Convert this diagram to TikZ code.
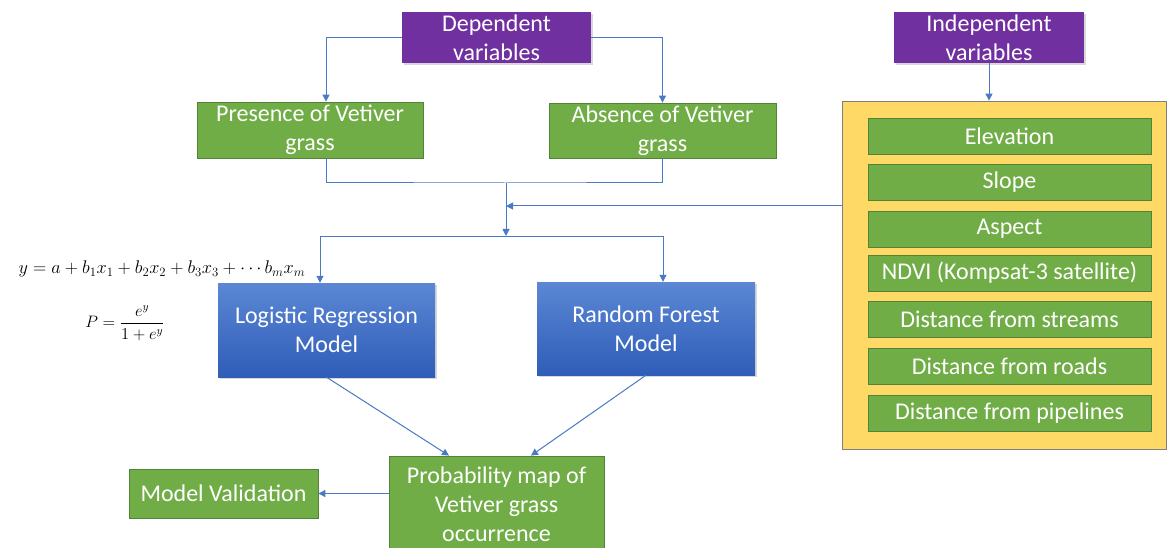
\documentclass[tikz,border=0pt]{standalone}
\usepackage{amsmath}
\usepackage{fontspec}
\setmainfont{Carlito}
\usetikzlibrary{arrows.meta,shadows}

\definecolor{varpurple}{RGB}{112,48,160}
\definecolor{boxgreen}{RGB}{112,173,71}
\definecolor{greenline}{RGB}{84,130,53}
\definecolor{modeltop}{RGB}{91,135,212}
\definecolor{modelbot}{RGB}{47,93,184}
\definecolor{panelyellow}{RGB}{255,217,102}
\definecolor{linkblue}{RGB}{74,122,196}

\begin{document}
\begin{tikzpicture}[x=1pt,y=-1pt,
	box/.style={inner sep=0pt,text=white,align=center,font=\fontsize{24}{29}\selectfont},
	varbox/.style={box,fill=varpurple,drop shadow={opacity=0.3,shadow xshift=1.5pt,shadow yshift=-2pt}},
	greenbox/.style={box,fill=boxgreen,draw=greenline,line width=0.8pt},
	modelbox/.style={box,top color=modeltop,bottom color=modelbot,drop shadow={opacity=0.3,shadow xshift=1.5pt,shadow yshift=-2pt}},
	link/.style={draw=linkblue,line width=1pt},
	arr/.style={link,-{Triangle[length=7pt,width=7pt]}}]
	\useasboundingbox[fill=white] (0,0) rectangle (1167,548);
	% variables
	\node[varbox,minimum width=189,minimum height=51] (dep) at (496.5,37.5) {Dependent\\variables};
	\node[varbox,minimum width=190,minimum height=51] (indep) at (989,37.5) {Independent\\variables};
	\node[greenbox,minimum width=226,minimum height=56] (pres) at (310,130) {Presence of Vetiver\\grass};
	\node[greenbox,minimum width=227,minimum height=55] (abs) at (662.5,130.5) {Absence of Vetiver\\grass};
	% factor panel
	\node[fill=panelyellow,draw=gray,line width=0.8pt,minimum width=324,minimum height=348,inner sep=0pt] (panel) at (1004,275) {};
	\node[greenbox,minimum width=283,minimum height=36] (elev) at (1009.5,136) {Elevation};
	\node[greenbox,minimum width=283,minimum height=36] (slope) at (1009.5,182) {Slope};
	\node[greenbox,minimum width=283,minimum height=36] (aspect) at (1009.5,229) {Aspect};
	\node[greenbox,minimum width=283,minimum height=36] (ndvi) at (1009.5,273) {NDVI (Kompsat-3 satellite)};
	\node[greenbox,minimum width=283,minimum height=36] (stream) at (1009.5,319) {Distance from streams};
	\node[greenbox,minimum width=283,minimum height=36] (road) at (1009.5,366) {Distance from roads};
	\node[greenbox,minimum width=283,minimum height=36] (pipe) at (1009.5,413) {Distance from pipelines};
	% models
	\node[modelbox,minimum width=217,minimum height=94] (lr) at (326.5,330) {Logistic Regression\\Model};
	\node[modelbox,minimum width=218,minimum height=93] (rf) at (646,328.5) {Random Forest\\Model};
	\node[greenbox,minimum width=215,minimum height=96] (prob) at (496.5,504) {Probability map of\\Vetiver grass\\occurrence};
	\node[greenbox,minimum width=189,minimum height=49] (val) at (223.5,493.5) {Model Validation};
	\node[font=\fontsize{17.28}{20}\selectfont,scale=1.06] (eqy) at (162,269) {$y = a + b_1x_1 + b_2x_2 + b_3x_3 + \cdots b_mx_m$};
	\node[font=\fontsize{14.4}{18}\selectfont,scale=1.15] (eqp) at (125,323) {$P = \dfrac{e^y}{1+e^y}$};
	% connectors
	\coordinate (presout) at ([xshift=16pt]pres.south);
	\coordinate (join) at (506,183);
	\coordinate (feed) at (506,206);
	\coordinate (split) at (506,236);
	\coordinate (lrin) at ([xshift=-6.5pt]lr.north);
	\coordinate (rfin) at ([xshift=17pt]rf.north);
	\draw[arr] (dep.west) -| ([xshift=16pt]pres.north);
	\draw[arr] (dep.east) -| (abs.north);
	\draw[arr] (indep.south) -- (indep.south |- panel.north);
	\draw[link] (presout) |- (join) -| (abs.south);
	\draw[arr] (join) -- (split);
	\draw[arr] ([yshift=69pt]panel.west) -- (feed);
	\draw[arr] (lrin |- split) -- (lrin);
	\draw[arr] (lrin |- split) -| (rfin);
	\draw[arr] (lr.south) -- ([xshift=-47.5pt]prob.north);
	\draw[arr] (rf.south) -- ([xshift=34.5pt]prob.north);
	\draw[arr] ([yshift=10.5pt]prob.west) -- (val.east);
\end{tikzpicture}
\end{document}
